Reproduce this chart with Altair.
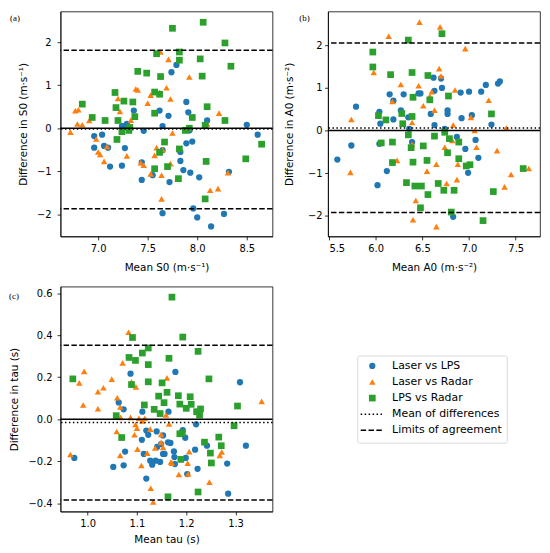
import altair as alt
import pandas as pd

SERIES = ["Laser vs LPS", "Laser vs Radar", "LPS vs Radar"]
COLORS = ["#1f77b4", "#ff7f0e", "#2ca02c"]
SHAPES = ["circle", "triangle-up", "square"]
LEGEND_LABELS = SERIES + ["Mean of differences", "Limits of agreement"]

# ---- Panel (a): S0 ----
S0_LASER_LPS_MEAN = [6.96, 6.96, 7.04, 7.06, 7.10, 7.12, 7.24, 7.27, 7.29, 7.24, 7.27, 7.36, 7.46, 7.44, 7.44, 7.55, 7.62, 7.65, 7.71, 7.65, 7.65, 7.74, 7.79, 7.72, 7.83, 7.83, 7.86, 7.89, 7.91, 7.89, 7.92, 7.93, 7.95, 7.96, 8.00, 8.02, 8.10, 8.14, 8.27, 8.32, 8.50, 8.61]
S0_LASER_LPS_DIFF = [-0.18, -0.45, -0.15, -0.41, -0.45, -0.89, 0.05, 0.05, 0.10, -0.87, -0.46, 0.41, -0.06, -1.20, -0.79, -1.09, 0.41, 0.05, 0.29, -0.51, -1.97, 1.30, 1.47, -1.25, -0.55, -0.76, -0.97, 0.61, 0.37, -0.35, -0.05, -1.03, -0.31, -1.86, -2.07, -1.14, 0.18, -2.28, -1.99, -1.01, 0.08, -0.15]
S0_LASER_RADAR_MEAN = [6.72, 6.77, 6.80, 6.79, 6.84, 6.91, 6.98, 7.00, 7.02, 7.06, 7.09, 7.20, 7.22, 7.29, 7.33, 7.38, 7.40, 7.43, 7.46, 7.50, 7.53, 7.53, 7.57, 7.59, 7.62, 7.63, 7.64, 7.64, 7.65, 7.69, 7.71, 7.73, 7.73, 7.75, 7.80, 7.92, 8.10, 8.13, 8.21, 8.22, 8.31]
S0_LASER_RADAR_DIFF = [-0.09, 0.41, 0.43, 0.10, 0.08, 0.18, -0.25, -0.55, -0.61, -0.77, -0.42, 0.69, 0.39, -0.64, 0.19, 0.91, 0.89, -0.80, -0.86, 0.58, -1.06, 0.77, -0.63, -0.45, 0.83, 1.77, -1.64, -1.09, -0.50, 0.94, 1.60, 0.68, -0.82, -0.11, -1.17, 1.19, 0.10, -1.44, -1.40, 0.35, -1.03]
S0_LPS_RADAR_MEAN = [6.84, 6.94, 7.07, 7.17, 7.18, 7.19, 7.20, 7.24, 7.26, 7.32, 7.31, 7.35, 7.37, 7.40, 7.49, 7.57, 7.57, 7.57, 7.59, 7.62, 7.63, 7.62, 7.67, 7.70, 7.75, 7.81, 7.82, 7.82, 7.82, 7.88, 7.92, 7.95, 8.03, 8.05, 8.06, 8.08, 8.09, 8.08, 8.10, 8.28, 8.28, 8.34, 8.49, 8.65]
S0_LPS_RADAR_DIFF = [0.56, 0.25, 0.18, 0.83, 0.48, -0.26, 0.18, -0.08, 0.63, 0.02, -0.05, 0.61, 0.27, 1.32, 1.28, -0.94, 0.35, 0.84, 1.73, 0.79, 1.20, -0.56, -0.32, -0.89, 2.32, -1.17, -0.48, 1.77, 1.58, -0.05, 0.00, 0.25, 1.61, 1.21, 2.46, 0.07, -0.77, -1.64, 0.50, 1.98, 0.18, 1.44, -0.71, -0.37]
S0_MEAN_DIFF = [-0.02]
S0_LIMITS = [1.81, -1.87]

# ---- Panel (b): A0 ----
A0_LASER_LPS_MEAN = [5.59, 5.74, 5.79, 6.02, 6.04, 6.04, 6.05, 6.12, 6.15, 6.19, 6.19, 6.27, 6.30, 6.35, 6.36, 6.39, 6.46, 6.48, 6.59, 6.62, 6.63, 6.63, 6.71, 6.70, 6.77, 6.77, 6.74, 6.83, 6.87, 6.92, 6.91, 6.96, 7.00, 6.99, 7.03, 7.07, 7.10, 7.13, 7.18, 7.24, 7.31, 7.33]
A0_LASER_LPS_DIFF = [-0.68, -0.35, 0.56, -1.28, 0.44, -0.31, 0.16, -0.95, 0.85, 0.70, 0.26, 0.47, 0.85, 0.31, 0.04, -0.27, 0.87, 0.87, 0.39, 1.24, 0.93, 0.13, 1.00, 1.22, 0.47, 0.39, 0.04, -2.02, -0.15, 0.29, 0.89, -0.43, 0.91, -0.99, 0.36, -0.22, -0.64, 0.91, 1.07, 0.14, 1.10, 1.15]
A0_LASER_RADAR_MEAN = [5.73, 5.74, 5.98, 6.14, 6.18, 6.27, 6.23, 6.39, 6.39, 6.40, 6.43, 6.46, 6.47, 6.51, 6.51, 6.55, 6.58, 6.60, 6.63, 6.65, 6.65, 6.68, 6.69, 6.70, 6.74, 6.74, 6.76, 6.82, 6.83, 6.85, 6.87, 6.88, 6.96, 7.02, 7.06, 7.08, 7.21, 7.30, 7.38, 7.40, 7.45, 7.64]
A0_LASER_RADAR_DIFF = [-0.98, 0.26, 1.36, 2.21, 0.68, 1.08, -0.70, -0.32, 0.19, -2.09, -1.64, 1.05, 2.54, 0.58, -0.35, -0.95, 0.80, 0.91, 0.48, -0.79, -2.25, 1.45, 2.43, 1.28, -0.39, 0.00, -1.24, -0.23, 0.13, 0.95, -1.15, -0.79, 1.92, 0.31, 0.00, -0.39, 0.71, -0.47, -1.32, 0.06, -1.03, -0.89]
A0_LPS_RADAR_MEAN = [5.97, 5.97, 6.03, 6.06, 6.11, 6.16, 6.18, 6.18, 6.28, 6.29, 6.33, 6.35, 6.35, 6.38, 6.39, 6.39, 6.40, 6.40, 6.42, 6.48, 6.49, 6.51, 6.55, 6.56, 6.58, 6.56, 6.63, 6.67, 6.71, 6.73, 6.74, 6.78, 6.77, 6.79, 6.81, 6.84, 6.89, 6.89, 6.97, 7.01, 7.15, 7.24, 7.26, 7.58]
A0_LPS_RADAR_DIFF = [1.84, 1.49, 0.35, -0.29, 0.25, 1.31, -0.27, -0.75, 0.40, 0.16, -1.22, -0.10, 2.12, -0.40, 0.33, 1.36, 0.78, -0.74, -1.30, -1.81, -1.30, -0.36, -0.70, 1.29, 0.72, -1.50, -0.13, -1.24, 2.27, -1.40, -0.04, 0.81, -0.52, -0.19, -1.91, -1.40, -0.27, -0.66, -0.83, -0.80, -2.11, 0.39, -1.43, -0.89]
A0_MEAN_DIFF = [0.06]
A0_LIMITS = [2.05, -1.92]

# ---- Panel (c): tau ----
TAU_LASER_LPS_MEAN = [0.973, 1.052, 1.063, 1.073, 1.073, 1.076, 1.087, 1.110, 1.111, 1.114, 1.119, 1.119, 1.123, 1.127, 1.131, 1.138, 1.140, 1.141, 1.147, 1.149, 1.153, 1.153, 1.156, 1.163, 1.164, 1.168, 1.175, 1.176, 1.178, 1.177, 1.193, 1.198, 1.199, 1.202, 1.218, 1.220, 1.223, 1.242, 1.283, 1.285, 1.309, 1.321]
TAU_LASER_LPS_DIFF = [-0.184, -0.227, 0.080, 0.047, -0.219, -0.154, 0.217, -0.098, 0.036, -0.165, -0.282, -0.054, -0.074, -0.197, -0.216, -0.197, -0.058, -0.132, -0.203, -0.118, -0.077, -0.165, -0.165, -0.110, 0.036, -0.113, -0.153, -0.180, 0.225, -0.213, -0.052, -0.088, -0.184, -0.261, -0.145, -0.024, -0.236, -0.126, -0.211, -0.354, 0.176, -0.126]
TAU_LASER_RADAR_MEAN = [0.965, 0.983, 0.991, 0.993, 1.021, 1.021, 1.032, 1.049, 1.059, 1.060, 1.066, 1.066, 1.071, 1.067, 1.083, 1.087, 1.089, 1.095, 1.098, 1.097, 1.100, 1.101, 1.104, 1.109, 1.111, 1.116, 1.121, 1.127, 1.128, 1.133, 1.137, 1.149, 1.149, 1.153, 1.159, 1.161, 1.165, 1.169, 1.171, 1.185, 1.204, 1.203, 1.206, 1.247, 1.268, 1.272, 1.353]
TAU_LASER_RADAR_DIFF = [-0.168, 0.173, 0.068, 0.228, 0.131, 0.050, 0.150, 0.191, -0.058, 0.102, 0.058, -0.172, 0.268, 0.009, 0.414, 0.009, 0.178, -0.074, 0.154, -0.025, -0.043, -0.142, 0.005, -0.220, -0.008, 0.005, -0.161, -0.047, -0.328, -0.394, -0.137, -0.110, -0.072, -0.134, 0.020, 0.197, -0.022, -0.203, -0.209, -0.263, -0.260, -0.209, -0.154, -0.299, -0.172, -0.156, 0.085]
TAU_LPS_RADAR_MEAN = [0.970, 1.058, 1.069, 1.084, 1.089, 1.091, 1.097, 1.111, 1.115, 1.123, 1.123, 1.123, 1.135, 1.144, 1.147, 1.151, 1.155, 1.161, 1.165, 1.163, 1.171, 1.184, 1.187, 1.187, 1.189, 1.192, 1.193, 1.200, 1.208, 1.210, 1.221, 1.224, 1.224, 1.227, 1.229, 1.237, 1.246, 1.249, 1.251, 1.266, 1.271, 1.297, 1.304]
TAU_LPS_RADAR_DIFF = [0.192, 0.017, -0.087, 0.294, 0.165, 0.389, 0.280, 0.315, 0.068, 0.178, 0.260, 0.339, 0.047, 0.110, 0.027, 0.173, 0.079, 0.128, 0.290, -0.369, 0.581, 0.112, 0.072, -0.069, -0.191, -0.065, 0.391, 0.052, 0.107, 0.071, 0.036, 0.323, -0.346, 0.020, 0.049, -0.109, 0.192, -0.161, -0.208, -0.085, -0.126, -0.031, 0.063]
TAU_MEAN_DIFF = [-0.016]
TAU_LIMITS = [0.352, -0.384]

FONT = "DejaVu Sans"
W, H = 214, 227


def frame(pairs):
    rows = []
    for name, (xs, ys) in zip(SERIES, pairs):
        rows += [{"mean": x, "diff": y, "series": name} for x, y in zip(xs, ys)]
    return pd.DataFrame(rows)


color_enc = alt.Color("series:N", scale=alt.Scale(domain=SERIES, range=COLORS), legend=None)
shape_enc = alt.Shape("series:N", scale=alt.Scale(domain=SERIES, range=SHAPES), legend=None)
size_enc = alt.Size("series:N", scale=alt.Scale(domain=SERIES, range=[40, 46, 34]), legend=None)


def panel(df, xdom, ydom, xticks, yticks, xfmt, yfmt, xtitle, ytitle,
          mean_v, limits, tag, tag_dx, tag_dy, ylabpad, ytitlex, xtitley):
    xenc = alt.X("mean:Q", scale=alt.Scale(domain=xdom, nice=False, zero=False),
                 axis=alt.Axis(values=xticks, format=xfmt, title=xtitle, grid=False,
                               labelPadding=4, titleY=xtitley, titleBaseline="middle"))
    yenc = alt.Y("diff:Q", scale=alt.Scale(domain=ydom, nice=False, zero=False),
                 axis=alt.Axis(values=yticks, format=yfmt, title=ytitle, grid=False,
                               labelPadding=ylabpad, titleX=ytitlex, titleBaseline="middle"))
    pts = alt.Chart(df).mark_point(filled=True, opacity=1, strokeWidth=0).encode(
        x=xenc, y=yenc, color=color_enc, shape=shape_enc, size=size_enc)
    zero = alt.Chart(pd.DataFrame({"diff": [0.0]})).mark_rule(
        color="black", strokeWidth=1.5).encode(y=yenc)
    mean = alt.Chart(pd.DataFrame({"diff": mean_v})).mark_rule(
        color="black", strokeWidth=1.5, strokeDash=[1.5, 2.5]).encode(y=yenc)
    loa = alt.Chart(pd.DataFrame({"diff": limits})).mark_rule(
        color="black", strokeWidth=1.5, strokeDash=[5.5, 2.4]).encode(y=yenc)
    lab = alt.Chart(pd.DataFrame({"t": [tag]})).mark_text(
        font="Liberation Serif", fontSize=9, align="left", baseline="middle", color="black"
    ).encode(text="t:N", x=alt.value(tag_dx), y=alt.value(tag_dy))
    return alt.layer(pts, zero, mean, loa, lab).properties(width=W, height=H)


pa = panel(frame([(S0_LASER_LPS_MEAN, S0_LASER_LPS_DIFF), (S0_LASER_RADAR_MEAN, S0_LASER_RADAR_DIFF),
                  (S0_LPS_RADAR_MEAN, S0_LPS_RADAR_DIFF)]),
           [6.62, 8.76], [-2.51, 2.71], [7.0, 7.5, 8.0, 8.5], [-2, -1, 0, 1, 2], ".1f", "d",
           "Mean S0 (m·s⁻¹)", "Difference in S0 (m·s⁻¹)", S0_MEAN_DIFF, S0_LIMITS,
           "(a)", -51, 7, 6, -37, 31)
pb = panel(frame([(A0_LASER_LPS_MEAN, A0_LASER_LPS_DIFF), (A0_LASER_RADAR_MEAN, A0_LASER_RADAR_DIFF),
                  (A0_LPS_RADAR_MEAN, A0_LPS_RADAR_DIFF)]),
           [5.49, 7.76], [-2.48, 2.79], [5.5, 6.0, 6.5, 7.0, 7.5], [-2, -1, 0, 1, 2], ".1f", "d",
           "Mean A0 (m·s⁻²)", "Difference in A0 (m·s⁻²)", A0_MEAN_DIFF, A0_LIMITS,
           "(b)", -29, 7, 2.5, -38.5, 31)
pc = panel(frame([(TAU_LASER_LPS_MEAN, TAU_LASER_LPS_DIFF), (TAU_LASER_RADAR_MEAN, TAU_LASER_RADAR_DIFF),
                  (TAU_LPS_RADAR_MEAN, TAU_LPS_RADAR_DIFF)]),
           [0.945, 1.375], [-0.439, 0.631], [1.0, 1.1, 1.2, 1.3], [-0.4, -0.2, 0.0, 0.2, 0.4, 0.6], ".1f", ".1f",
           "Mean tau (s)", "Difference in tau (s)", TAU_MEAN_DIFF, TAU_LIMITS,
           "(c)", -52, 9, 5, -46.5, 28.5)

# ---- Legend panel ----
leg_df = pd.DataFrame({"series": LEGEND_LABELS})
leg_y = alt.Y("series:N", sort=LEGEND_LABELS,
              scale=alt.Scale(type="point", domain=LEGEND_LABELS, range=[80, 145], padding=0),
              axis=None)
box = alt.Chart(pd.DataFrame({"k": [0]})).mark_rect(
    fill="white", stroke="#d0d0d0", strokeWidth=0.8, cornerRadius=2
).encode(x=alt.value(84), x2=alt.value(235), y=alt.value(70), y2=alt.value(158))
syms = alt.Chart(leg_df).transform_filter(
    alt.FieldOneOfPredicate(field="series", oneOf=SERIES)
).mark_point(filled=True, opacity=1, strokeWidth=0).encode(
    x=alt.value(98.7), y=leg_y, color=color_enc, shape=shape_enc, size=size_enc)
dots = alt.Chart(leg_df).transform_filter(
    alt.datum.series == "Mean of differences"
).mark_rule(color="black", strokeWidth=1.5, strokeDash=[1.5, 2.5]).encode(
    x=alt.value(87), x2=alt.value(109), y=leg_y)
dash = alt.Chart(leg_df).transform_filter(
    alt.datum.series == "Limits of agreement"
).mark_rule(color="black", strokeWidth=1.5, strokeDash=[5.5, 2.4]).encode(
    x=alt.value(87), x2=alt.value(109), y=leg_y)
txt = alt.Chart(leg_df).mark_text(
    align="left", baseline="middle", font=FONT, fontSize=11, color="black"
).encode(x=alt.value(118.7), y=leg_y, text="series:N")
legend = alt.layer(box, syms, dots, dash, txt).properties(
    width=240, height=H, view=alt.ViewBackground(stroke=None))

chart = alt.vconcat(
    alt.hconcat(pa, pb, spacing=10),
    alt.hconcat(pc, legend, spacing=0),
    spacing=12.7,
).properties(padding=0).configure_view(
    stroke="black", strokeWidth=0.8
).configure_axis(
    labelFont=FONT, labelFontSize=10, labelColor="black",
    titleFont=FONT, titleFontSize=10.5, titleFontWeight="normal", titleColor="black",
    tickSize=3.5, tickColor="black", tickWidth=0.8,
    domainColor="black", domainWidth=0.8,
)

chart.save("out.html", embed_options={"renderer": "svg", "actions": False})
